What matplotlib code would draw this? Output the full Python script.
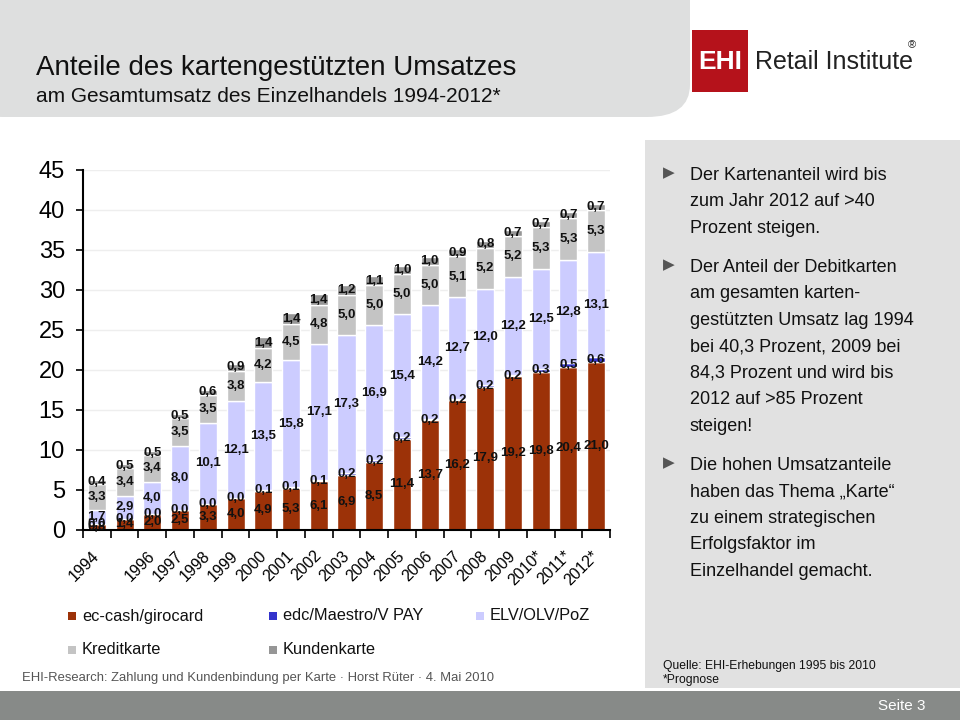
import matplotlib
matplotlib.use("Agg")
import matplotlib.pyplot as plt
import matplotlib.transforms as mtrans
import numpy as np
from matplotlib.patches import Rectangle, FancyBboxPatch

plt.rcParams["font.family"] = ["Liberation Sans", "DejaVu Sans"]

years = ["1994", "", "1996", "1997", "1998", "1999", "2000", "2001", "2002", "2003",
         "2004", "2005", "2006", "2007", "2008", "2009", "2010*", "2011*", "2012*"]
ec_cash = [0.8, 1.4, 2.0, 2.5, 3.3, 4.0, 4.9, 5.3, 6.1, 6.9, 8.5, 11.4, 13.7, 16.2, 17.9, 19.2, 19.8, 20.4, 21.0]
maestro = [0.0, 0.0, 0.0, 0.0, 0.0, 0.0, 0.1, 0.1, 0.1, 0.2, 0.2, 0.2, 0.2, 0.2, 0.2, 0.2, 0.3, 0.5, 0.6]
elv = [1.7, 2.9, 4.0, 8.0, 10.1, 12.1, 13.5, 15.8, 17.1, 17.3, 16.9, 15.4, 14.2, 12.7, 12.0, 12.2, 12.5, 12.8, 13.1]
kredit = [3.3, 3.4, 3.4, 3.5, 3.5, 3.8, 4.2, 4.5, 4.8, 5.0, 5.0, 5.0, 5.0, 5.1, 5.2, 5.2, 5.3, 5.3, 5.3]
kunden = [0.4, 0.5, 0.5, 0.5, 0.6, 0.9, 1.4, 1.4, 1.4, 1.2, 1.1, 1.0, 1.0, 0.9, 0.8, 0.7, 0.7, 0.7, 0.7]

series = [
    ("ec-cash/girocard", ec_cash, "#9c3208"),
    ("edc/Maestro/V PAY", maestro, "#3333cc"),
    ("ELV/OLV/PoZ", elv, "#ccccff"),
    ("Kreditkarte", kredit, "#c4c4c4"),
    ("Kundenkarte", kunden, "#969696"),
]

W, H = 960, 720
fig = plt.figure(figsize=(9.6, 7.2), dpi=100)


def fx(x):
    return x / W


def fy(y):
    return 1 - y / H


# header band (only the lower right corner shows rounded)
fig.patches.append(FancyBboxPatch((fx(-40), fy(117)), fx(730), fy(-100) - fy(117),
                                  boxstyle="round,pad=0,rounding_size=0.045",
                                  transform=fig.transFigure, facecolor="#dedfdf",
                                  edgecolor="none", zorder=0))
# right info panel
fig.patches.append(Rectangle((fx(645), fy(688)), fx(320), fy(140) - fy(688),
                             transform=fig.transFigure, facecolor="#e1e1e1",
                             edgecolor="none", zorder=0))
# footer band
fig.patches.append(Rectangle((0, 0), 1, fy(691), transform=fig.transFigure,
                             facecolor="#878a88", edgecolor="none", zorder=0))

fig.text(fx(36), fy(68), "Anteile des kartengestützten Umsatzes", fontsize=20,
         va="center", ha="left", color="#111111")
fig.text(fx(36), fy(97), "am Gesamtumsatz des Einzelhandels 1994-2012*", fontsize=15,
         va="center", ha="left", color="#111111")

# logo
fig.patches.append(Rectangle((fx(692), fy(92)), fx(56), fy(30) - fy(92),
                             transform=fig.transFigure, facecolor="#b5121b",
                             edgecolor="none", zorder=1))
fig.text(fx(720), fy(62), "EHI", fontsize=19, fontweight="bold", color="white",
         ha="center", va="center")
fig.text(fx(755), fy(62), "Retail Institute", fontsize=18, color="#222222",
         ha="left", va="center")
fig.text(fx(912), fy(45), "®", fontsize=8, color="#222222", ha="center", va="center")

# chart
ax = fig.add_axes([fx(83), fy(530), fx(610) - fx(83), fy(170) - fy(530)])
x = np.arange(len(years))
bottom = np.zeros(len(years))
for name, vals, col in series:
    vals = np.array(vals)
    ax.bar(x, vals, 0.65, bottom=bottom, color=col, edgecolor="white",
           linewidth=1.0, zorder=2, label=name)
    for xi, b, v in zip(x, bottom, vals):
        ax.text(xi, b + v / 2, f"{v:.1f}".replace(".", ","), ha="center", va="center",
                fontsize=9.5, fontweight="bold", color="#111111", zorder=3)
    bottom = bottom + vals

ax.set_ylim(0, 45)
ax.set_xlim(-0.5, len(years) - 0.5)
ax.set_yticks(np.arange(0, 46, 5))
ax.tick_params(axis="y", labelsize=17, direction="out", length=5, width=1.2, pad=8)
ax.set_xticks(x)
ax.set_xticklabels(years, rotation=45, ha="right", rotation_mode="anchor", fontsize=11.5)
ax.tick_params(axis="x", which="major", length=0, pad=13)
shift = mtrans.ScaledTranslation(-5 / 100, 0, fig.dpi_scale_trans)
for lab in ax.get_xticklabels():
    lab.set_transform(lab.get_transform() + shift)
ax.set_xticks(np.arange(len(years) + 1) - 0.5, minor=True)
ax.tick_params(axis="x", which="minor", length=6, width=1.2, direction="out")
for s in ["top", "right"]:
    ax.spines[s].set_visible(False)
for s in ["left", "bottom"]:
    ax.spines[s].set_linewidth(1.5)
ax.yaxis.grid(True, color="#eeeeee", linewidth=1, zorder=0)
ax.set_axisbelow(True)
ax.set_facecolor("none")

# legend, laid out in rows like the original
colors = {name: col for name, _, col in series}
legend_rows = [
    (616, [(72, "ec-cash/girocard"), (273, "edc/Maestro/V PAY"), (480, "ELV/OLV/PoZ")]),
    (650, [(72, "Kreditkarte"), (273, "Kundenkarte")]),
]
for ly, items in legend_rows:
    for lx, name in items:
        fig.patches.append(Rectangle((fx(lx - 4), fy(ly + 4)), fx(8), fy(ly - 4) - fy(ly + 4),
                                     transform=fig.transFigure, facecolor=colors[name],
                                     edgecolor="none"))
        fig.text(fx(lx + 10), fy(ly), name, fontsize=11.8, color="#111111",
                 ha="left", va="center")

fig.text(fx(22), fy(678), "EHI-Research: Zahlung und Kundenbindung per Karte · Horst Rüter · 4. Mai 2010",
         fontsize=9.4, color="#555555", ha="left", va="center")

# right panel text
bullets = [
    (175, ["Der Kartenanteil wird bis", "zum Jahr 2012 auf >40", "Prozent steigen."]),
    (267, ["Der Anteil der Debitkarten", "am gesamten karten-", "gestützten Umsatz lag 1994",
           "bei 40,3 Prozent, 2009 bei", "84,3 Prozent und wird bis", "2012 auf >85 Prozent",
           "steigen!"]),
    (465, ["Die hohen Umsatzanteile", "haben das Thema \u201eKarte\u201c", "zu einem strategischen",
           "Erfolgsfaktor im", "Einzelhandel gemacht."]),
]
for y0, lines in bullets:
    fig.text(fx(669), fy(y0 - 2), "\u25b6", fontsize=11, color="#555555", ha="center",
             va="center", family="DejaVu Sans")
    for i, line in enumerate(lines):
        fig.text(fx(690), fy(y0 + i * 26.6), line, fontsize=13, color="#111111",
                 ha="left", va="center")

fig.text(fx(663), fy(666), "Quelle: EHI-Erhebungen 1995 bis 2010", fontsize=8.7,
         color="#111111", ha="left", va="center")
fig.text(fx(663), fy(680), "*Prognose", fontsize=8.7, color="#111111", ha="left", va="center")
fig.text(fx(926), fy(706), "Seite 3", fontsize=11, color="white", ha="right", va="center")

fig.savefig("out.png", dpi=100)
